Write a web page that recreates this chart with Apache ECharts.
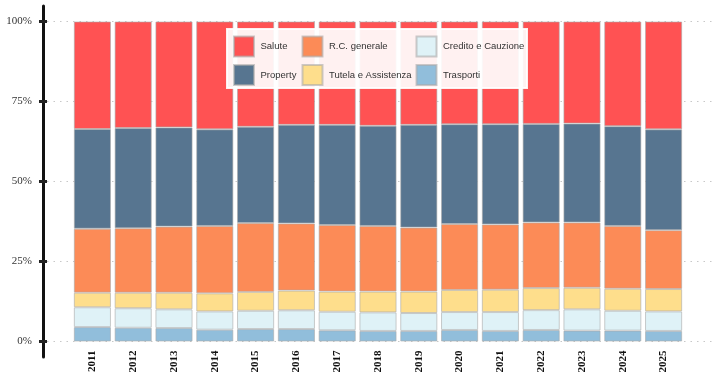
<!DOCTYPE html>
<html>
<head>
<meta charset="utf-8">
<script src="https://cdn.jsdelivr.net/npm/echarts@6/dist/echarts.min.js"></script>
<style>html,body{margin:0;padding:0;background:#fff}#c{width:718px;height:378px}</style>
</head>
<body>
<div id="c"></div>
<script>
const years = ['2011','2012','2013','2014','2015','2016','2017','2018','2019','2020','2021','2022','2023','2024','2025'];
const trasporti = [4.5,4.3,4.2,3.7,3.9,3.9,3.5,3.3,3.3,3.6,3.3,3.6,3.4,3.4,3.3];
const credito = [6.2,6.1,5.85,5.7,5.7,5.85,5.8,5.8,5.6,5.6,5.9,6.2,6.65,6.2,6.1];
const tutela = [4.55,4.85,5.2,5.65,5.9,6.15,6.3,6.5,6.7,6.9,7.0,6.9,6.75,6.9,7.0];
const rcGenerale = [20.0,20.15,20.65,21.05,21.5,21.0,20.8,20.5,20.0,20.6,20.4,20.5,20.4,19.6,18.4];
const property = [31.15,31.3,31.0,30.2,30.1,30.8,31.3,31.3,32.1,31.2,31.3,30.8,30.9,31.2,31.5];
const salute = [33.6,33.3,33.1,33.7,32.9,32.3,32.3,32.6,32.3,32.1,32.1,32.0,31.9,32.7,33.7];
const yTicks = [0,25,50,75,100];

const colors = {
  'Salute':'#ff5253','Property':'#577590','R.C. generale':'#fc8b57',
  'Tutela e Assistenza':'#fede8c','Credito e Cauzione':'#dff2f7','Trasporti':'#91bedb'
};
const seriesDefs = [
  ['Trasporti', trasporti],
  ['Credito e Cauzione', credito],
  ['Tutela e Assistenza', tutela],
  ['R.C. generale', rcGenerale],
  ['Property', property],
  ['Salute', salute]
];

const chart = echarts.init(document.getElementById('c'), null, {renderer:'canvas'});
const legendText = {fontFamily:'Liberation Sans, Arial, sans-serif', fontSize:9.5, color:'#333', padding:[0,0,0,1.5]};
function mkLegend(left, names){
  return {left:left, top:35.5, orient:'vertical', padding:0, itemGap:6.5,
    itemWidth:20, itemHeight:20, icon:'rect', data:names, textStyle:legendText, z:10,
    selectedMode:false};
}
chart.setOption({
  animation:false,
  grid:[
    {left:72, width:612, top:21.5, bottom:36.5},
    {left:47, right:6, top:21.5, bottom:36.5},
    {left:43.5, right:6, top:6, bottom:21}
  ],
  xAxis:[
    {type:'category', gridIndex:0, data:years, axisLine:{show:false}, axisTick:{show:false},
     axisLabel:{rotate:90, margin:9, fontFamily:'Liberation Serif, Times New Roman, serif', fontWeight:'bold', fontSize:11, color:'#111'}},
    {type:'value', gridIndex:1, show:false},
    {type:'value', gridIndex:2, show:false}
  ],
  yAxis:[
    {type:'value', gridIndex:0, min:0, max:100, interval:25, show:false},
    {type:'value', gridIndex:1, min:0, max:100, interval:25, offset:3.5,
     axisLine:{show:false},
     axisTick:{show:true, length:8, lineStyle:{color:'#222', width:3}},
     axisLabel:{margin:11.5, formatter:v=>v+'%', fontFamily:'Liberation Serif, Times New Roman, serif', fontSize:11, color:'#333'},
     splitLine:{show:true, lineStyle:{type:[1.5,5], color:'#c8c8c8', width:1.2}}},
    {type:'value', gridIndex:2, min:0, max:1, axisLine:{show:true, lineStyle:{color:'#111', width:3}},
     axisTick:{show:false}, axisLabel:{show:false}, splitLine:{show:false}}
  ],
  legend:[
    mkLegend(233, ['Salute','Property']),
    mkLegend(301.5, ['R.C. generale','Tutela e Assistenza']),
    mkLegend(415.5, ['Credito e Cauzione','Trasporti'])
  ],
  graphic:[{type:'rect', shape:{x:227, y:29, width:300, height:59}, z:5,
    style:{fill:'rgba(255,255,255,0.92)', stroke:'rgba(255,255,255,0.9)', lineWidth:2}}],
  series: seriesDefs.map(([name, vals]) => ({
    name:name, type:'bar', stack:'tot', xAxisIndex:0, yAxisIndex:0,
    barCategoryGap:'9%', data:vals,
    itemStyle:{color:colors[name], borderColor:'rgba(170,170,170,0.6)', borderWidth:1}
  }))
});
</script>
</body>
</html>
